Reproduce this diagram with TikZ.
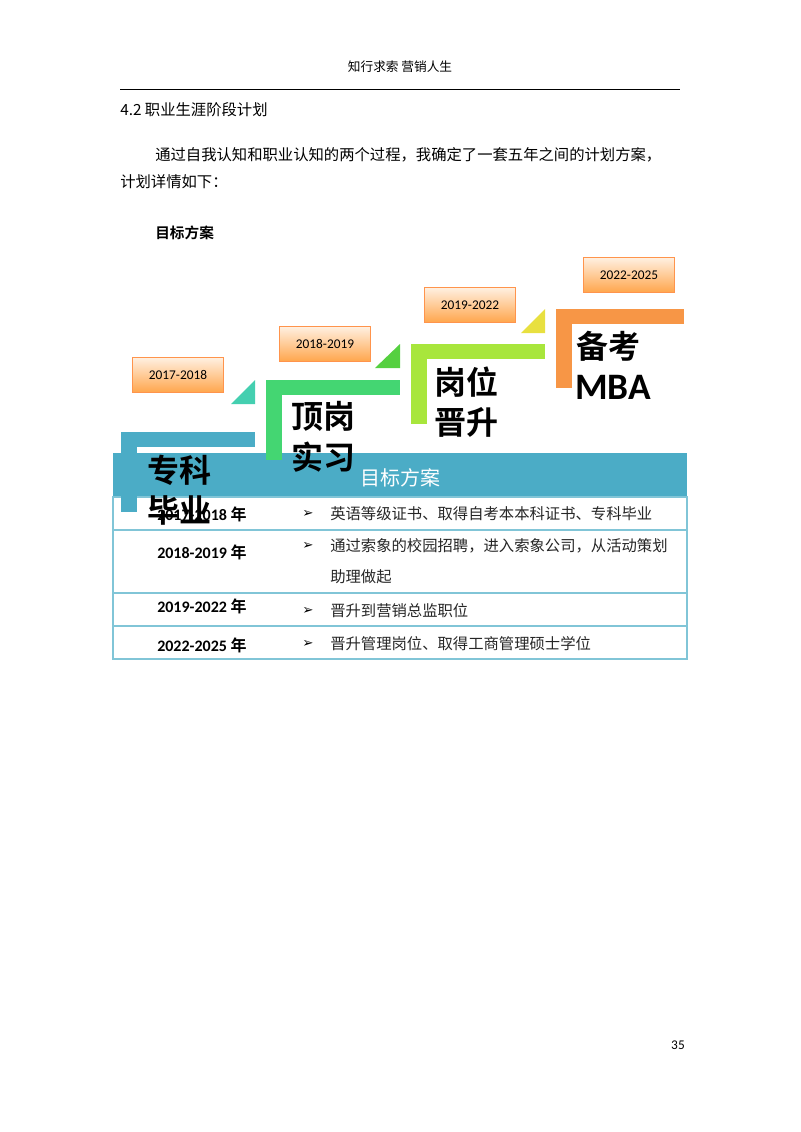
\documentclass[tikz,border=0pt]{standalone}
\usepackage{fontspec}
\setmainfont{Carlito}
\newfontfamily\cjk{Noto Sans CJK SC}
\newfontfamily\cjkb{Noto Sans CJK SC}[BoldFont={* Bold}]
\newfontfamily\djfont{DejaVu Sans}
\begin{document}
\begin{tikzpicture}[x=0.75pt,y=-0.75pt,
  yearbox/.style={draw=orange!80!red!70,line width=0.6pt,top color=orange!12,bottom color=orange!70!white,minimum width=68pt,minimum height=26pt,inner sep=0pt,font=\fontsize{10}{12}\selectfont},
  big/.style={font=\cjkb\fontsize{24}{30}\selectfont\bfseries,anchor=west,inner sep=0pt},
  body/.style={font=\cjk\fontsize{11.5}{14}\selectfont,anchor=west,inner sep=0pt,text=black!85},
  yr/.style={font=\fontsize{12}{14}\selectfont\bfseries,anchor=west,inner sep=0pt},
  bul/.style={font=\djfont\fontsize{10}{12}\selectfont,anchor=west,inner sep=0pt}]
\definecolor{bandblue}{HTML}{4BACC6}
\definecolor{stepA}{HTML}{4BACC6}
\definecolor{stepB}{HTML}{44D672}
\definecolor{stepC}{HTML}{A8E63C}
\definecolor{stepD}{HTML}{F79646}
\definecolor{triA}{HTML}{44CFB0}
\definecolor{triB}{HTML}{55D040}
\definecolor{triC}{HTML}{E8E040}
\useasboundingbox (0,0) rectangle (800,1132);
\fill[white] (0,0) rectangle (800,1132);
% header
\node[font=\cjk\fontsize{9.5}{12}\selectfont] (hdr) at (400,67) {知行求索\ 营销人生};
\draw[line width=0.7pt] (120,89) -- (680,89);
\node[font=\cjk\fontsize{11.5}{14}\selectfont,anchor=west,inner sep=0pt] (sec) at (120,110) {4.2 职业生涯阶段计划};
\node[body,text=black] (p1) at (155,155) {通过自我认知和职业认知的两个过程，我确定了一套五年之间的计划方案，};
\node[body,text=black] (p2) at (120,182) {计划详情如下：};
\node[font=\cjkb\fontsize{11}{14}\selectfont\bfseries,anchor=west,inner sep=0pt] (goal) at (155,233) {目标方案};
% table
\fill[bandblue] (113,453) rectangle (687,497);
\node[font=\cjk\fontsize{15}{18}\selectfont,text=white] (th) at (400,478) {目标方案};
\draw[bandblue!70,line width=1pt] (113,497) rectangle (687,659);
\foreach \yy in {530,593,626} \draw[bandblue!70,line width=1pt] (113,\yy) -- (687,\yy);
\node[yr] (y1) at (157,514) {2017-2018 {\cjkb 年}};
\node[yr] (y2) at (157,552) {2018-2019 {\cjkb 年}};
\node[yr] (y3) at (157,606) {2019-2022 {\cjkb 年}};
\node[yr] (y4) at (157,645) {2022-2025 {\cjkb 年}};
\node[bul] (b1) at (302,514) {➢};
\node[bul] (b2) at (302,546) {➢};
\node[bul] (b3) at (302,611) {➢};
\node[bul] (b4) at (302,644) {➢};
\node[body] (t1) at (330,514) {英语等级证书、取得自考本本科证书、专科毕业};
\node[body] (t2) at (330,546) {通过索象的校园招聘，进入索象公司，从活动策划};
\node[body] (t2b) at (330,577) {助理做起};
\node[body] (t3) at (330,611) {晋升到营销总监职位};
\node[body] (t4) at (330,644) {晋升管理岗位、取得工商管理硕士学位};
% steps
\fill[stepA] (121,432) rectangle (255,447);
\fill[stepA] (121,432) rectangle (137,512);
\fill[triA] (231,404) -- (255,380) -- (255,404) -- cycle;
\fill[stepB] (266,380) rectangle (400,395);
\fill[stepB] (266,380) rectangle (282,460);
\fill[triB] (375,368) -- (400,344) -- (400,368) -- cycle;
\fill[stepC] (411,344) rectangle (545,359);
\fill[stepC] (411,344) rectangle (427,424);
\fill[triC] (521,333) -- (545,309) -- (545,333) -- cycle;
\fill[stepD] (556,309) rectangle (684,324);
\fill[stepD] (556,309) rectangle (572,388);
% year boxes
\node[yearbox] (k1) at (178,375) {2017-2018};
\node[yearbox] (k2) at (325,344) {2018-2019};
\node[yearbox] (k3) at (470,305) {2019-2022};
\node[yearbox] (k4) at (629,275) {2022-2025};
% big labels
\node[big] (s1a) at (147,470) {专科};
\node[big] (s1b) at (147,510) {毕业};
\node[big] (s2a) at (291,416) {顶岗};
\node[big] (s2b) at (291,457) {实习};
\node[big] (s3a) at (434,382) {岗位};
\node[big] (s3b) at (434,422) {晋升};
\node[big] (s4a) at (576,346) {备考};
\node[big,font=\fontsize{28}{32}\selectfont\bfseries] (s4b) at (575,387) {MBA};
% page number
\node[font=\fontsize{10}{12}\selectfont] (pg) at (678,1045) {35};
\end{tikzpicture}
\end{document}
